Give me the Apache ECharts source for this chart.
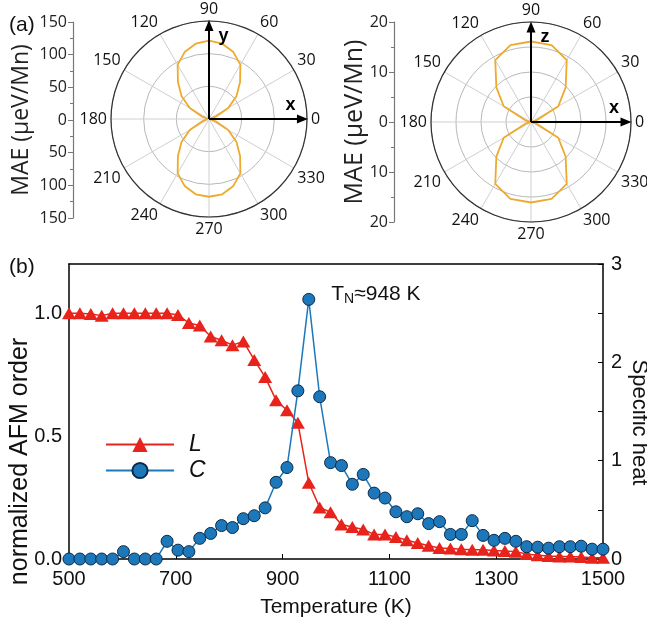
<!DOCTYPE html>
<html>
<head>
<meta charset="utf-8">
<script src="https://cdn.jsdelivr.net/npm/echarts@6/dist/echarts.min.js"></script>
<style>html,body{margin:0;padding:0;background:#fff;}#c{width:647px;height:631px;}</style>
</head>
<body>
<div id="c"></div>
<script>
// ---- Panel (a): MAE polar data ----
const angleY = [0,10,20,30,40,50,60,70,80,90,100,110,120,130,140,150,160,170,180,190,200,210,220,230,240,250,260,270,280,290,300,310,320,330,340,350,360];
const maeY   = [0,2,12,34,55,74,96,109,117,120,117,109,96,74,55,34,12,2,0,2,12,34,55,74,96,109,117,119,117,109,96,74,55,34,12,2,0];
const angleZ = [0,15,30,45,60,75,90,105,120,135,150,165,180,195,210,225,240,255,270,285,300,315,330,345,360];
const maeZ   = [0,1,6.3,9.8,14.3,15.9,16.1,15.9,14.3,9.8,6.3,1,0,1,6.3,9.8,14.3,15.9,16.1,15.9,14.3,9.8,6.3,1,0];

// ---- Panel (b): temperature series ----
const temperature = [500,520.4,540.8,561.2,581.6,602.0,622.4,642.9,663.3,683.7,704.1,724.5,744.9,765.3,785.7,806.1,826.5,846.9,867.3,887.8,908.2,928.6,949.0,969.4,989.8,1010.2,1030.6,1051.0,1071.4,1091.8,1112.2,1132.7,1153.1,1173.5,1193.9,1214.3,1234.7,1255.1,1275.5,1295.9,1316.3,1336.7,1357.1,1377.6,1398.0,1418.4,1438.8,1459.2,1479.6,1500];
const orderL = [1.0,1.0,0.997,0.99,1.0,1.0,1.0,1.0,1.0,1.0,0.993,0.96,0.95,0.905,0.89,0.87,0.885,0.81,0.74,0.646,0.605,0.554,0.31,0.21,0.19,0.14,0.13,0.12,0.10,0.10,0.09,0.076,0.065,0.054,0.045,0.043,0.04,0.038,0.038,0.035,0.033,0.03,0.02,0.015,0.012,0.01,0.01,0.008,0.005,0.005];
const heatC  = [0,0,0,0,0,0.075,0,0,0,0.18,0.09,0.075,0.21,0.26,0.34,0.32,0.41,0.44,0.52,0.78,0.93,1.71,2.64,1.65,0.98,0.95,0.76,0.86,0.67,0.62,0.48,0.43,0.46,0.36,0.38,0.25,0.25,0.39,0.24,0.19,0.21,0.18,0.125,0.12,0.11,0.125,0.125,0.13,0.10,0.10];
const peakLabel = 'T{s|N}≈948 K';

const topFont = 'Open Sans';
const botFont = 'Liberation Sans';
const lobeColor = '#EEAA2C';

function polarPairs(r, a){ return r.map((v,i)=>[v, a[i]]); }

function angleAxis(idx){
  return {polarIndex: idx, type:'value', min:0, max:360, interval:30, startAngle:0, clockwise:false,
    axisLine:{show:true, lineStyle:{color:'#333', width:1.2}},
    axisTick:{show:false},
    axisLabel:{show:true, margin:4, fontSize:16, color:'#111', fontFamily:topFont},
    splitLine:{show:true, lineStyle:{color:'#cfcfcf', width:1}}};
}
function radiusAxis(idx, max, interval){
  return {polarIndex: idx, type:'value', min:0, max:max, interval:interval,
    axisLine:{show:false}, axisTick:{show:false}, axisLabel:{show:false},
    splitLine:{show:true, lineStyle:{color:'#b8b8b8', width:1}}};
}
function arrowSeries(idx, r, ang, txt, lblPos, lblOff){
  return {type:'line', coordinateSystem:'polar', polarIndex:idx, silent:true, z:6,
    lineStyle:{color:'#000', width:2}, itemStyle:{color:'#000'},
    data:[{value:[0, ang], symbol:'none'},
          {value:[r, ang], symbol:'triangle', symbolSize:[9,11], symbolRotate: ang===0 ? -90 : 0,
           label:{show:true, formatter:txt, position:lblPos, offset:lblOff, fontSize:18, fontWeight:'bold', color:'#000', fontFamily:botFont}}]};
}

const chart = echarts.init(document.getElementById('c'), null, {renderer:'canvas'});
chart.setOption({
  animation:false,
  backgroundColor:'#fff',
  polar:[{center:[209,119], radius:98},{center:[531,122], radius:100}],
  angleAxis:[angleAxis(0), angleAxis(1)],
  radiusAxis:[radiusAxis(0,150,50), radiusAxis(1,20,5)],
  grid:[
    {left:73, top:22, width:1, height:196, containLabel:false, outerBoundsMode:'none'},
    {left:394, top:22, width:1, height:200, containLabel:false, outerBoundsMode:'none'},
    {left:69, right:44, top:264, bottom:72, containLabel:false, outerBoundsMode:'none'}
  ],
  xAxis:[
    {gridIndex:0, type:'value', show:false, min:0, max:1},
    {gridIndex:1, type:'value', show:false, min:0, max:1},
    {gridIndex:2, type:'value', min:500, max:1500, interval:200, position:'bottom',
      axisLine:{onZero:false, lineStyle:{color:'#000', width:1.5}},
      axisTick:{inside:true, length:5, lineStyle:{color:'#000'}},
      axisLabel:{fontSize:20, color:'#111', margin:10, fontFamily:botFont, formatter:v=>String(v)},
      splitLine:{show:false},
      name:'Temperature (K)', nameLocation:'middle', nameGap:38, nameMoveOverlap:false,
      nameTextStyle:{fontSize:21, color:'#111', fontFamily:botFont}},
    {gridIndex:2, type:'value', min:500, max:1500, position:'top',
      axisLine:{show:true, onZero:false, lineStyle:{color:'#000', width:1.5}},
      axisTick:{show:false}, axisLabel:{show:false}, splitLine:{show:false}}
  ],
  yAxis:[
    {gridIndex:0, type:'value', min:-150, max:150, interval:50, position:'left',
      axisLine:{show:true, onZero:false, lineStyle:{color:'#777', width:1.2}},
      axisTick:{show:true, length:5, lineStyle:{color:'#777'}},
      minorTick:{show:true, splitNumber:2, length:3, lineStyle:{color:'#777'}},
      axisLabel:{fontSize:16, color:'#222', margin:6, fontFamily:topFont, formatter:v=>String(Math.abs(v))},
      splitLine:{show:false},
      name:'MAE (μeV/Mn)', nameLocation:'middle', nameGap:40, nameRotate:90, nameMoveOverlap:false,
      nameTextStyle:{fontSize:23, color:'#222', fontFamily:topFont}},
    {gridIndex:1, type:'value', min:-20, max:20, interval:10, position:'left',
      axisLine:{show:true, onZero:false, lineStyle:{color:'#777', width:1.2}},
      axisTick:{show:true, length:5, lineStyle:{color:'#777'}},
      minorTick:{show:true, splitNumber:2, length:3, lineStyle:{color:'#777'}},
      axisLabel:{fontSize:16, color:'#222', margin:6, fontFamily:topFont, formatter:v=>String(Math.abs(v))},
      splitLine:{show:false},
      name:'MAE (μeV/Mn)', nameLocation:'middle', nameGap:27, nameRotate:90, nameMoveOverlap:false,
      nameTextStyle:{fontSize:25, color:'#222', fontFamily:topFont}},
    {gridIndex:2, type:'value', min:0, max:1.2, interval:0.5, position:'left',
      axisLine:{show:true, onZero:false, lineStyle:{color:'#000', width:1.5}},
      axisTick:{show:false},
      axisLabel:{fontSize:20, color:'#111', margin:7, fontFamily:botFont, showMaxLabel:false, formatter:v=>v.toFixed(1)},
      splitLine:{show:false},
      name:'normalized AFM order', nameLocation:'middle', nameGap:36, nameRotate:90, nameMoveOverlap:false,
      nameTextStyle:{fontSize:25, color:'#111', fontFamily:botFont, padding:[0,100,0,0]}},
    {gridIndex:2, type:'value', min:0, max:3, interval:1, position:'right',
      axisLine:{show:true, onZero:false, lineStyle:{color:'#000', width:1.5}},
      axisTick:{show:true, inside:true, length:5, lineStyle:{color:'#000'}},
      minorTick:{show:true, splitNumber:2, length:5, lineStyle:{color:'#000'}},
      axisLabel:{fontSize:20, color:'#111', margin:8, fontFamily:botFont},
      splitLine:{show:false},
      name:'Specific heat', nameLocation:'middle', nameGap:25, nameRotate:-90, nameMoveOverlap:false,
      nameTextStyle:{fontSize:22, color:'#111', fontFamily:botFont, padding:[0,0,0,22]}}
  ],
  legend:{data:['L','C'], orient:'vertical', left:100, top:428, itemWidth:68, itemHeight:19, itemGap:3,
    textStyle:{fontSize:23, fontStyle:'italic', color:'#111', fontFamily:botFont, padding:[0,0,0,10]}},
  title:[
    {text:'(a)', left:4, top:10, textStyle:{fontSize:21, fontWeight:'normal', color:'#111', fontFamily:botFont}},
    {text:'(b)', left:4, top:252, textStyle:{fontSize:21, fontWeight:'normal', color:'#111', fontFamily:botFont}}
  ],
  series:[
    {type:'line', coordinateSystem:'polar', polarIndex:0, data:polarPairs(maeY, angleY), symbol:'none', smooth:false,
      lineStyle:{color:lobeColor, width:1.8}, z:4, silent:true},
    arrowSeries(0, 143, 0, 'x', 'top', [-12, 5]),
    arrowSeries(0, 143, 90, 'y', 'right', [0, 10]),
    {type:'line', coordinateSystem:'polar', polarIndex:1, data:polarPairs(maeZ, angleZ), symbol:'none', smooth:false,
      lineStyle:{color:lobeColor, width:1.8}, z:4, silent:true},
    arrowSeries(1, 19, 0, 'x', 'top', [-12, 5]),
    arrowSeries(1, 19, 90, 'z', 'right', [0, 10]),
    {name:'L', type:'line', xAxisIndex:2, yAxisIndex:2, clip:false,
      data:temperature.map((t,i)=>[t, orderL[i]]),
      symbol:'triangle', symbolSize:[14,12], showAllSymbol:true,
      lineStyle:{color:'#E8231B', width:1.5}, itemStyle:{color:'#E8231B', borderWidth:0}, z:3},
    {name:'C', type:'line', xAxisIndex:2, yAxisIndex:3, clip:false,
      data:temperature.map((t,i)=>{
        const pt = {value:[t, heatC[i]]};
        if (heatC[i] === Math.max(...heatC)) {
          pt.label = {show:true, position:'right', distance:16, offset:[0,-5], formatter:peakLabel,
            fontSize:21, color:'#111', fontFamily:botFont,
            rich:{s:{fontSize:14, fontFamily:botFont, color:'#111', padding:[9,0,0,0]}}};
        }
        return pt;
      }),
      symbol:'circle', symbolSize:12, showAllSymbol:true,
      lineStyle:{color:'#1C78BA', width:1.5}, itemStyle:{color:'#1C78BA', borderColor:'#0B2A48', borderWidth:1}, z:4}
  ]
});
</script>
</body>
</html>
